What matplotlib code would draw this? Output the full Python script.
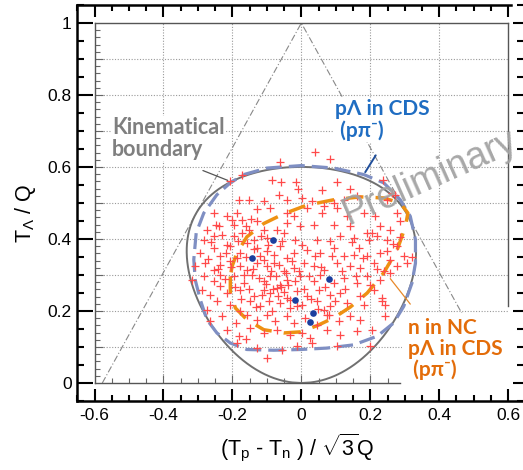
import numpy as np
import matplotlib.pyplot as plt
from matplotlib.ticker import MultipleLocator, FixedLocator, FuncFormatter

plt.rcParams['font.family'] = ['Liberation Sans', 'DejaVu Sans']
plt.rcParams['mathtext.fontset'] = 'custom'
plt.rcParams['mathtext.rm'] = 'Liberation Sans'
plt.rcParams['mathtext.it'] = 'Liberation Sans:italic'
plt.rcParams['axes.unicode_minus'] = False

# masses (MeV) and K- beam momentum (MeV/c)
M_K, M_HE3 = 493.677, 2808.391
M_LAM, M_P, M_N = 1115.683, 938.272, 939.565
P_BEAM = 1000.0

# Lambda p n events on the Dalitz plane
evt_x = [0.041, 0.082, -0.063,
         -0.208, -0.172, -0.085, -0.059, -0.015, -0.010, 0.060, 0.103, 0.142, 0.237, 0.263,
         -0.182, -0.153, -0.109, -0.066, -0.042, 0.002, 0.031, 0.094, 0.123, 0.162, 0.249, 0.273,
         -0.254, -0.216, -0.187, -0.172, -0.129, -0.090, -0.042, -0.022, 0.016, 0.060, 0.065, 0.103, 0.132, 0.181, 0.215, 0.278,
         -0.274, -0.240, -0.196, -0.162, -0.153, -0.129, -0.109, -0.071, -0.042, -0.003, 0.036, 0.094, 0.142, 0.191, 0.229, 0.258, 0.287,
         -0.283, -0.254, -0.216, -0.196, -0.158, -0.138, -0.100, -0.051, -0.017, 0.002, 0.045, 0.084, 0.113, 0.152, 0.195, 0.220, 0.249, 0.278,
         -0.293, -0.254, -0.235, -0.206, -0.177, -0.129, -0.119, -0.100, -0.061, -0.042, -0.022, 0.016, 0.055, 0.094, 0.123, 0.152, 0.166, 0.191, 0.229, 0.258, 0.297, 0.321,
         -0.308, -0.279, -0.254, -0.235, -0.206, -0.177, -0.158, -0.129, -0.100, -0.080, -0.051, -0.022, 0.007, 0.036, 0.065, 0.103, 0.142, 0.171, 0.210, 0.239, 0.278, 0.307,
         -0.317, -0.283, -0.254, -0.235, -0.196, -0.167, -0.143, -0.109, -0.090, -0.061, -0.042, -0.003, 0.036, 0.055, 0.094, 0.123, 0.162, 0.191, 0.229, 0.258,
         -0.288, -0.264, -0.235, -0.216, -0.177, -0.138, -0.109, -0.090, -0.071, -0.042, -0.013, 0.016, 0.050, 0.084, 0.113, 0.171, 0.210, 0.234,
         -0.274, -0.245, -0.206, -0.177, -0.148, -0.119, -0.085, -0.061, -0.032, 0.002, 0.045, 0.065, 0.084, 0.132, 0.181, 0.234, 0.244,
         -0.264, -0.230, -0.191, -0.158, -0.129, -0.100, -0.075, -0.042, -0.022, 0.012, 0.045, 0.079, 0.108, 0.142, 0.171, 0.244,
         -0.216, -0.182, -0.148, -0.109, -0.071, -0.032, 0.002, 0.026, 0.074, 0.113, 0.162, 0.205,
         -0.187, -0.162, -0.129, -0.100, -0.056, -0.013, 0.031, 0.103, 0.200,
         -0.270, -0.262, -0.248, -0.241, -0.229, -0.222, -0.219, -0.205, -0.201, -0.193, -0.188, -0.184, -0.176,
         -0.171, -0.166, -0.160, -0.152, -0.147, -0.141, -0.136, -0.131, -0.124, -0.118, -0.114, -0.108, -0.103,
         -0.097, -0.093, -0.088, -0.083, -0.078, -0.074, -0.069, -0.065, -0.060, -0.055, -0.049, -0.045, -0.038,
         -0.034, -0.028, -0.019, -0.012, -0.006, 0.008, 0.021, 0.028, 0.039, 0.048, 0.058, 0.070, 0.075,
         0.088, 0.098, 0.118, 0.128, 0.148, 0.158, 0.178, 0.198, 0.205, 0.218, 0.248, 0.265, 0.285]
evt_y = [0.642, 0.622, 0.613,
         0.560, 0.579, 0.565, 0.558, 0.557, 0.540, 0.535, 0.557, 0.539, 0.565, 0.528,
         0.509, 0.507, 0.506, 0.523, 0.509, 0.514, 0.506, 0.500, 0.509, 0.519, 0.509, 0.523,
         0.472, 0.463, 0.472, 0.454, 0.483, 0.486, 0.472, 0.463, 0.486, 0.472, 0.491, 0.486, 0.463, 0.472, 0.463, 0.472,
         0.426, 0.435, 0.440, 0.435, 0.426, 0.449, 0.426, 0.426, 0.444, 0.435, 0.440, 0.440, 0.435, 0.417, 0.435, 0.426, 0.449,
         0.398, 0.407, 0.384, 0.407, 0.389, 0.398, 0.403, 0.417, 0.398, 0.384, 0.398, 0.394, 0.407, 0.403, 0.398, 0.407, 0.398, 0.380,
         0.361, 0.375, 0.352, 0.380, 0.361, 0.375, 0.352, 0.366, 0.380, 0.347, 0.361, 0.370, 0.361, 0.375, 0.352, 0.356, 0.375, 0.352, 0.361, 0.343, 0.352, 0.350,
         0.324, 0.333, 0.315, 0.329, 0.338, 0.324, 0.315, 0.333, 0.324, 0.333, 0.310, 0.319, 0.333, 0.324, 0.315, 0.333, 0.324, 0.319, 0.333, 0.310, 0.324, 0.333,
         0.287, 0.296, 0.282, 0.301, 0.296, 0.278, 0.301, 0.282, 0.296, 0.273, 0.287, 0.296, 0.282, 0.301, 0.278, 0.292, 0.278, 0.296, 0.287, 0.306,
         0.259, 0.245, 0.269, 0.250, 0.259, 0.241, 0.259, 0.250, 0.264, 0.236, 0.255, 0.241, 0.259, 0.245, 0.250, 0.241, 0.259, 0.236,
         0.204, 0.227, 0.218, 0.199, 0.227, 0.213, 0.199, 0.222, 0.208, 0.218, 0.227, 0.204, 0.213, 0.222, 0.218, 0.227, 0.218,
         0.171, 0.185, 0.167, 0.190, 0.176, 0.190, 0.171, 0.185, 0.167, 0.181, 0.162, 0.190, 0.171, 0.185, 0.176, 0.185,
         0.148, 0.130, 0.153, 0.139, 0.148, 0.134, 0.139, 0.125, 0.148, 0.134, 0.144, 0.148,
         0.111, 0.122, 0.097, 0.069, 0.093, 0.102, 0.111, 0.102, 0.102,
         0.345, 0.392, 0.438, 0.318, 0.412, 0.288, 0.362, 0.321, 0.452, 0.268, 0.347, 0.395, 0.234,
         0.418, 0.301, 0.351, 0.262, 0.455, 0.318, 0.372, 0.212, 0.291, 0.409, 0.245, 0.342, 0.275,
         0.383, 0.228, 0.312, 0.262, 0.355, 0.296, 0.241, 0.328, 0.266, 0.395, 0.252, 0.305, 0.272,
         0.231, 0.338, 0.283, 0.215, 0.312, 0.262, 0.298, 0.232, 0.352, 0.205, 0.322, 0.268, 0.188,
         0.352, 0.228, 0.312, 0.262, 0.392, 0.298, 0.348, 0.272, 0.418, 0.318, 0.368, 0.385, 0.405]

# events inside both acceptances
sel_x = [-0.144, -0.081, -0.018, 0.034, 0.026, 0.080]
sel_y = [0.346, 0.396, 0.231, 0.194, 0.170, 0.288]

# acceptance contours: p Lambda in CDS, and n in NC + p Lambda in CDS
cds_x = [-0.167, -0.100, 0.000, 0.094, 0.181, 0.239, 0.287, 0.316, 0.331, 0.331, 0.321, 0.297, 0.268,
         0.220, 0.152, 0.074, -0.003, -0.080, -0.158, -0.206, -0.245, -0.274, -0.293, -0.308, -0.312,
         -0.305, -0.283, -0.245, -0.206, -0.167]
cds_y = [0.579, 0.597, 0.604, 0.597, 0.579, 0.556, 0.509, 0.463, 0.398, 0.333, 0.278, 0.213, 0.167,
         0.130, 0.106, 0.097, 0.093, 0.091, 0.093, 0.111, 0.139, 0.176, 0.231, 0.287, 0.343,
         0.417, 0.472, 0.523, 0.556, 0.579]
nc_x = [-0.206, -0.206, -0.191, -0.158, -0.109, -0.051, -0.003, 0.045, 0.094, 0.142, 0.191, 0.239,
        0.278, 0.302, 0.309, 0.287, 0.239, 0.171, 0.094, 0.016, -0.051, -0.109, -0.158, -0.187,
        -0.201, -0.206]
nc_y = [0.296, 0.250, 0.208, 0.176, 0.148, 0.139, 0.142, 0.159, 0.181, 0.211, 0.250, 0.306,
        0.370, 0.435, 0.472, 0.500, 0.514, 0.517, 0.509, 0.494, 0.470, 0.443, 0.406, 0.361,
        0.324, 0.296]

# relativistic Dalitz boundary for K- 3He -> Lambda p n
e_beam = np.hypot(P_BEAM, M_K)
s = (e_beam + M_HE3) ** 2 - P_BEAM ** 2
W = np.sqrt(s)
Q = W - (M_LAM + M_P + M_N)
e_lam_max = (s + M_LAM ** 2 - (M_P + M_N) ** 2) / (2 * W)
t_lam = np.linspace(0, e_lam_max - M_LAM, 400)
e_lam = t_lam + M_LAM
p_lam = np.sqrt(np.maximum(e_lam ** 2 - M_LAM ** 2, 0))
e_pn = W - e_lam
m_pn = np.sqrt(np.maximum(e_pn ** 2 - p_lam ** 2, (M_P + M_N) ** 2))
p_st = np.sqrt(np.maximum((m_pn ** 2 - (M_P + M_N) ** 2) * (m_pn ** 2 - (M_P - M_N) ** 2), 0)) / (2 * m_pn)
e_st = (m_pn ** 2 + M_P ** 2 - M_N ** 2) / (2 * m_pn)
gam, bgam = e_pn / m_pn, p_lam / m_pn


def dalitz_x(e_p):
    e_n = e_pn - e_p
    return ((e_p - M_P) - (e_n - M_N)) / (np.sqrt(3) * Q)


bnd_x = np.concatenate([dalitz_x(gam * e_st - bgam * p_st), dalitz_x(gam * e_st + bgam * p_st)[::-1]])
bnd_y = np.concatenate([t_lam, t_lam[::-1]]) / Q

W_PX, H_PX = 523, 470
fig = plt.figure(figsize=(W_PX / 100, H_PX / 100), dpi=100)

# outer frame with the tick labels
ax = fig.add_axes([77.3 / W_PX, 1 - 401 / H_PX, (W_PX - 77.3) / W_PX, 396 / H_PX])
ax.set_xlim(-0.65, 0.643)
ax.set_ylim(-0.05, 1.05)
ax.patch.set_alpha(0)
for side in ['left', 'top', 'bottom']:
    ax.spines[side].set_linewidth(1.8)
ax.spines['right'].set_visible(False)
ax.spines['top'].set_bounds(-0.65, 0.607)
ax.xaxis.set_major_locator(FixedLocator(np.round(np.arange(-0.6, 0.61, 0.2), 2)))
ax.xaxis.set_minor_locator(MultipleLocator(0.05))
ax.yaxis.set_major_locator(FixedLocator(np.round(np.arange(0, 1.01, 0.2), 2)))
ax.yaxis.set_minor_locator(MultipleLocator(0.05))
fmt = FuncFormatter(lambda v, p: '%g' % round(v, 2))
ax.xaxis.set_major_formatter(fmt)
ax.yaxis.set_major_formatter(fmt)
ax.tick_params(axis='x', which='both', direction='in', top=True, width=1.5, labelsize=12.5, pad=5)
ax.tick_params(axis='x', which='major', length=8.6)
ax.tick_params(axis='x', which='minor', length=4.3)
ax.tick_params(axis='y', which='both', direction='in', right=False, width=1.5, labelsize=12.5, pad=4)
ax.tick_params(axis='y', which='major', length=11.5)
ax.tick_params(axis='y', which='minor', length=5)

# edge of the neighbouring panel
axr = fig.add_axes([1.0, 1 - 401 / H_PX, 0.02, 396 / H_PX])
axr.set_ylim(-0.05, 1.05)
axr.set_xticks([])
for sp in axr.spines.values():
    sp.set_visible(False)
axr.yaxis.set_major_locator(MultipleLocator(0.2))
axr.yaxis.set_minor_locator(MultipleLocator(0.05))
axr.tick_params(axis='y', which='both', direction='out', width=1.5, labelleft=False)
axr.tick_params(axis='y', which='major', length=7.5)
axr.tick_params(axis='y', which='minor', length=4)
axr.patch.set_alpha(0)

# inner plot frame
axi = fig.add_axes([94.5 / W_PX, 1 - 383 / H_PX, (508.2 - 94.5) / W_PX, 360 / H_PX])
axi.set_xlim(-0.6, 0.6)
axi.set_ylim(0, 1)
axi.patch.set_alpha(0)
for sp in axi.spines.values():
    sp.set_linewidth(1.0)
    sp.set_color('#555555')
axi.spines['right'].set_bounds(0.213, 1)
axi.spines['bottom'].set_bounds(-0.6, 0.285)
axi.xaxis.set_major_locator(FixedLocator([-0.4, -0.2, 0, 0.2, 0.4]))
axi.xaxis.set_minor_locator(FixedLocator(np.round(np.arange(-0.55, 0.29, 0.05), 2)))
axi.yaxis.set_major_locator(FixedLocator(np.round(np.arange(0.1, 0.95, 0.1), 2)))
axi.yaxis.set_minor_locator(FixedLocator(np.round(np.arange(0.02, 1.0, 0.02), 2)))
axi.tick_params(which='both', direction='in', colors='#666666', width=0.8,
                labelbottom=False, labelleft=False)
axi.tick_params(which='major', length=6)
axi.tick_params(which='minor', length=3.5)
axi.grid(True, which='major', color='#999999', linestyle=(0, (1, 1.5)), linewidth=0.8)

# triangle of the plot domain
axi.plot([-1 / np.sqrt(3), 0, 1 / np.sqrt(3)], [0, 1, 0], color='#888888', lw=0.8,
         linestyle=(0, (6, 2, 1, 2)), zorder=2)

axi.plot(bnd_x, bnd_y, color='#707070', lw=1.4, zorder=3)
axi.plot(cds_x, cds_y, color='#7f8fc3', lw=2.3, linestyle=(0, (5, 2.2)), zorder=4)
axi.plot(nc_x, nc_y, color='#ee9112', lw=2.5, linestyle=(0, (5, 3.5)), zorder=4)
axi.plot(evt_x, evt_y, '+', color='#ff4a4a', ms=5.5, mew=0.9, zorder=5)
axi.plot(sel_x, sel_y, 'o', color='#1c3f9e', ms=4.8, mec='none', zorder=6)

lbl_font = ['Lato', 'DejaVu Sans']
axi.annotate('', xy=(-0.206, 0.560), xytext=(-0.293, 0.593),
             arrowprops=dict(arrowstyle='-', color='#555555', lw=0.9), zorder=7)
axi.annotate('', xy=(0.181, 0.579), xytext=(0.220, 0.639),
             arrowprops=dict(arrowstyle='-', color='#1f4e9a', lw=1.4), zorder=7)
axi.annotate('', xy=(0.321, 0.213), xytext=(0.253, 0.296),
             arrowprops=dict(arrowstyle='-', color='#e8892a', lw=0.9), zorder=7)

axi.text(-0.549, 0.738, 'Kinematical\nboundary', ha='left', va='top', color='#7f7f7f',
         fontsize=15.5, fontweight='bold', family=lbl_font, linespacing=1.05, zorder=8,
         bbox=dict(facecolor='white', edgecolor='none', pad=1))
axi.text(0.097, 0.788, 'p\u039b in CDS\n (p\u03c0\u207b)', ha='left', va='top', color='#1f6dc2',
         fontsize=15, fontweight='bold', family=lbl_font, linespacing=1.05, zorder=8,
         bbox=dict(facecolor='white', edgecolor='none', pad=1))
axi.text(0.308, 0.180, 'n in NC\np\u039b in CDS\n (p\u03c0\u207b)', ha='left', va='top',
         color='#e36c09', fontsize=15, fontweight='bold', family=lbl_font, linespacing=1.05,
         zorder=8, clip_on=False, bbox=dict(facecolor='white', edgecolor='none', pad=4))
axi.text(0.372, 0.570, 'Preliminary', rotation=24, ha='center', va='center', fontsize=27,
         color='#a3a3a3', alpha=0.95, zorder=9, clip_on=False)

fig.text(26 / W_PX, 1 - 213 / H_PX, r'T$_\Lambda$ / Q', rotation=90, ha='center', va='center',
         fontsize=15.5)
fig.text(297 / W_PX, 1 - 448 / H_PX, r'(T$_\mathrm{p}$ - T$_\mathrm{n}$ ) / $\sqrt{3}$Q',
         ha='center', va='center', fontsize=15.5)

fig.savefig('out.png', dpi=100)
